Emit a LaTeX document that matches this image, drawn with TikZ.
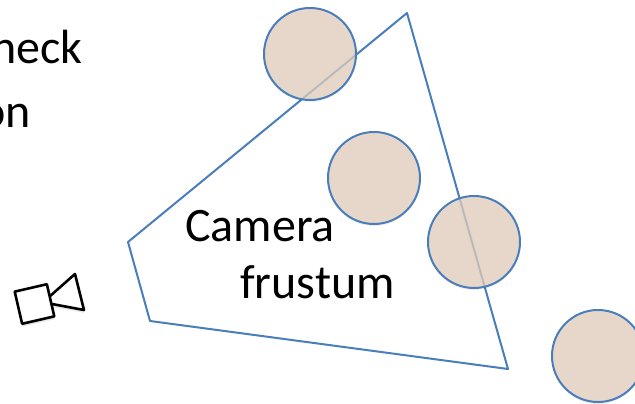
\documentclass[tikz,border=0pt]{standalone}
\usepackage{fontspec}
\setmainfont{Carlito}
\usetikzlibrary{calc,shadows}
\definecolor{spherecol}{RGB}{228,208,190}
\definecolor{linecol}{RGB}{74,126,187}
\begin{document}
\begin{tikzpicture}[x=1pt,y=-1pt,
  ball/.style={circle,draw=linecol,line width=2pt,fill=spherecol,fill opacity=0.75,draw opacity=1,minimum size=92pt,inner sep=0pt,
    general shadow={fill=black,opacity=0.06,shadow yshift=-2pt}},
  lab/.style={inner sep=0pt,font=\fontsize{48}{48}\selectfont,anchor=base west},
  cam/.style={draw=black,fill=white,line width=2.6pt,line join=round,
    general shadow={fill=black,opacity=0.08,shadow yshift=-3pt}}]
\useasboundingbox (0,0) rectangle (635,404);
\clip (0,0) rectangle (635,404);

% frustum
\coordinate (f1) at (407,13);
\coordinate (f2) at (508,369);
\coordinate (f3) at (150,321);
\coordinate (f4) at (128,242);
\draw[linecol,line width=2pt,line join=round] (f1) -- (f2) -- (f3) -- (f4) -- cycle;

% spheres
\node[ball] (s1) at (310,54) {};
\node[ball] (s2) at (374,178) {};
\node[ball] (s3) at (474,242) {};
\node[ball] (s4) at (598,356) {};

% text
\node[lab,anchor=base east] (t1) at (83,64) {heck};
\node[lab,anchor=base east] (t2) at (31,128) {on};
\node[lab] (t3) at (185,241) {Camera};
\node[lab] (t4) at (240,298) {frustum};

% camera
\coordinate (c1) at (49,297);
\coordinate (c2) at (75,274);
\coordinate (c3) at (84,310);
\coordinate (c4) at (52,304);
\draw[cam] (c1) -- (c2) -- (c3) -- (c4);
\node[cam,draw,minimum size=33pt,inner sep=0pt,rotate=13] (body) at (34.5,304) {};
\end{tikzpicture}
\end{document}
